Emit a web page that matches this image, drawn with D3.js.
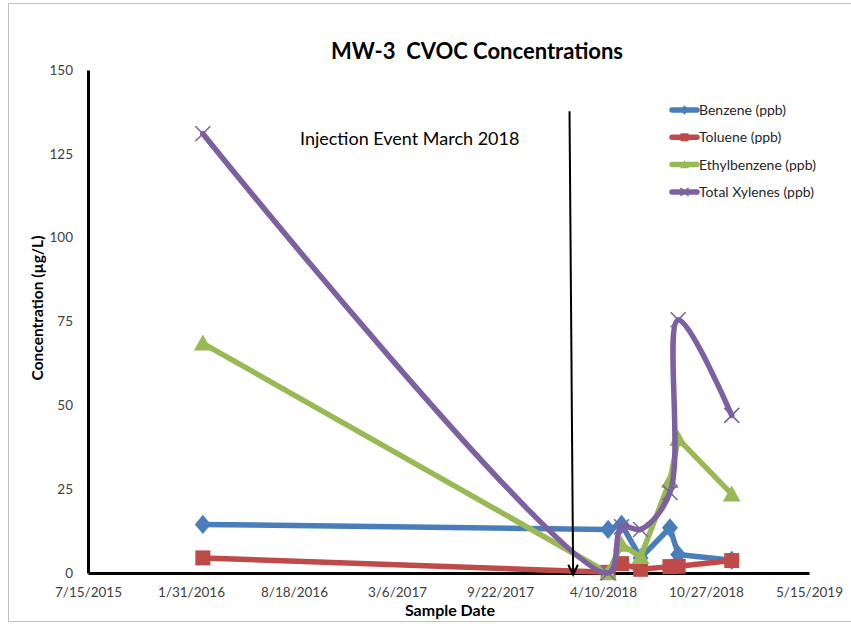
<!DOCTYPE html>
<html><head><meta charset="utf-8">
<script src="https://cdn.jsdelivr.net/npm/d3@7"></script>
<style>body{margin:0;background:#fff}svg{display:block}text{font-family:Lato,"Open Sans",sans-serif}</style>
</head><body>
<svg id="c" width="851" height="624"></svg>
<script>
// ---- data ----
const sampleDates = ["2016-02-23","2018-04-20","2018-05-16","2018-06-22","2018-08-18","2018-09-03","2018-12-16"];
const benzene  = [14.5, 13, 14.5, 4.5, 13.5, 5.5, 3.8];
const toluene  = [4.5, 0.2, 2.8, 1.1, 1.9, 2.0, 3.7];
const ethylbenzene = [68.5, 0, 8.5, 4.8, 27.5, 40, 23.5];
const xylenes  = [131, 0, 13.8, 13, 24, 75.5, 47];
const seriesNames = ["Benzene (ppb)","Toluene (ppb)","Ethylbenzene (ppb)","Total Xylenes (ppb)"];
const xTickLabels = ["7/15/2015","1/31/2016","8/18/2016","3/6/2017","9/22/2017","4/10/2018","10/27/2018","5/15/2019"];
const yTicks = [0,25,50,75,100,125,150];
const titleText = "MW-3  CVOC Concentrations";
const annotationText = "Injection Event March 2018";
const arrowStart = ["2018-02-04", 137.7];
const arrowEnd   = ["2018-02-11", -0.5];

const parse = d3.utcParse("%Y-%m-%d");
const tickParse = d3.utcParse("%m/%d/%Y");
const svg = d3.select("#c");

// chart border
svg.append("rect").attr("x",8.5).attr("y",3.5).attr("width",850).attr("height",618)
  .attr("fill","none").attr("stroke","#BFBFBF").attr("stroke-width",1);

const x = d3.scaleUtc().domain([tickParse(xTickLabels[0]), tickParse(xTickLabels[xTickLabels.length-1])]).range([88,809]);
const y = d3.scaleLinear().domain([0,150]).range([573,70]);

// title
svg.append("text").attr("x",477).attr("y",59).attr("text-anchor","middle")
  .attr("font-size",22).attr("font-weight","bold").attr("fill","#000")
  .style("white-space","pre").attr("xml:space","preserve").text(titleText);

// axes
const fmt = d => (d.getUTCMonth()+1)+"/"+d.getUTCDate()+"/"+d.getUTCFullYear();
const xAxis = d3.axisBottom(x).tickValues(xTickLabels.map(tickParse)).tickFormat(fmt).tickSize(0).tickPadding(14);
const gx = svg.append("g").attr("transform","translate(0,573)").call(xAxis);
gx.select(".domain").attr("stroke","#000").attr("stroke-width",3);
gx.selectAll("text").attr("font-size",13.5).attr("fill","#404040").attr("font-family","Lato");

const yAxis = d3.axisLeft(y).tickValues(yTicks).tickSize(0).tickPadding(15);
const gy = svg.append("g").attr("transform","translate(88,0)").call(yAxis);
gy.select(".domain").attr("stroke","#000").attr("stroke-width",3);
gy.selectAll("text").attr("font-size",13.5).attr("fill","#404040").attr("font-family","Lato");

svg.append("text").attr("x",450).attr("y",616).attr("text-anchor","middle")
  .attr("font-size",16).attr("font-weight","bold").text("Sample Date");
svg.append("text").attr("transform","translate(43,308) rotate(-90)").attr("text-anchor","middle")
  .attr("font-size",15.5).attr("font-weight","bold").text("Concentration (µg/L)");

// annotation
svg.append("text").attr("x",300).attr("y",145).attr("font-size",18).attr("fill","#000").text(annotationText);
const ax1 = x(parse(arrowStart[0])), ay1 = y(arrowStart[1]);
const ax2 = x(parse(arrowEnd[0])), ay2 = y(arrowEnd[1]);

// series
const dts = sampleDates.map(parse);
const series = [
  {name:seriesNames[0], vals:benzene, color:"#4A7EBB", marker:"diamond", curve:d3.curveLinear},
  {name:seriesNames[1], vals:toluene, color:"#BE4B48", marker:"square", curve:d3.curveLinear},
  {name:seriesNames[2], vals:ethylbenzene, color:"#98B954", marker:"triangle", curve:d3.curveLinear},
  {name:seriesNames[3], vals:xylenes, color:"#7D60A0", marker:"x", curve:d3.curveCatmullRom.alpha(0.5)}
];

function drawMarker(g, type, cx, cy, color, s){
  if(type==="diamond"){
    g.append("path").attr("d",`M${cx},${cy-s*0.6}L${cx+s*0.5},${cy}L${cx},${cy+s*0.6}L${cx-s*0.5},${cy}Z`).attr("fill",color);
  } else if(type==="square"){
    g.append("rect").attr("x",cx-s*0.5).attr("y",cy-s*0.5).attr("width",s).attr("height",s).attr("fill",color);
  } else if(type==="triangle"){
    g.append("path").attr("d",`M${cx},${cy-s*0.55}L${cx+s*0.55},${cy+s*0.45}L${cx-s*0.55},${cy+s*0.45}Z`).attr("fill",color);
  } else {
    const h=s*0.5;
    g.append("path").attr("d",`M${cx-h},${cy-h}L${cx+h},${cy+h}M${cx-h},${cy+h}L${cx+h},${cy-h}`)
      .attr("stroke",color).attr("stroke-width",1.5).attr("fill","none");
  }
}

const sizes = {diamond:16, square:15, triangle:16, x:15};
series.forEach(s=>{
  const g = svg.append("g");
  const pts = s.vals.map((v,i)=>[x(dts[i]), y(v)]);
  g.append("path").attr("d", d3.line().curve(s.curve)(pts))
    .attr("fill","none").attr("stroke",s.color).attr("stroke-width",5.5)
    .attr("stroke-linejoin","round").attr("stroke-linecap","round");
  pts.forEach(p=>drawMarker(g, s.marker, p[0], p[1], s.color, sizes[s.marker]));
});

// arrow (on top)
svg.append("line").attr("x1",ax1).attr("y1",ay1).attr("x2",ax2).attr("y2",ay2)
  .attr("stroke","#000").attr("stroke-width",2);
{
  const ang = Math.atan2(ay2-ay1, ax2-ax1), L=11, w=0.45;
  const p1=[ax2-L*Math.cos(ang-w), ay2-L*Math.sin(ang-w)];
  const p2=[ax2-L*Math.cos(ang+w), ay2-L*Math.sin(ang+w)];
  svg.append("path").attr("d",`M${p1}L${ax2},${ay2}L${p2}`).attr("fill","none")
    .attr("stroke","#000").attr("stroke-width",2).attr("stroke-linejoin","miter");
}

// legend
const lg = svg.append("g");
series.forEach((s,i)=>{
  const ly = 110 + i*27.3;
  lg.append("line").attr("x1",672).attr("x2",697).attr("y1",ly).attr("y2",ly)
    .attr("stroke",s.color).attr("stroke-width",5.5).attr("stroke-linecap","round");
  drawMarker(lg, s.marker, 684.5, ly, s.color, 8);
  lg.append("text").attr("x",699).attr("y",ly+5).attr("font-size",14).attr("fill","#262626").text(s.name);
});
</script>
</body></html>
